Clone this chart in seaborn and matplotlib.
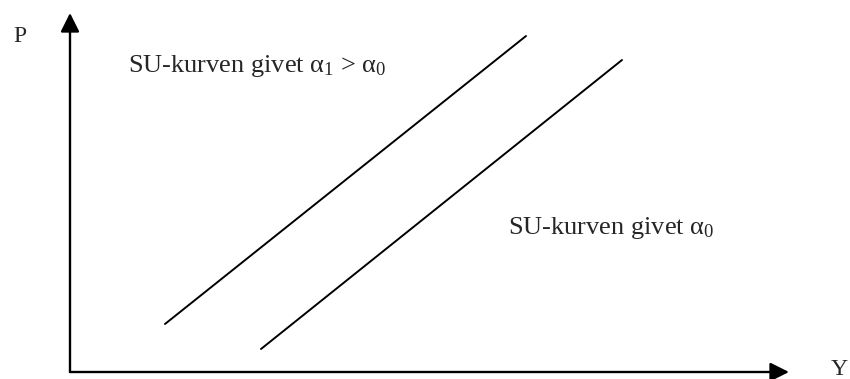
import matplotlib
matplotlib.use("Agg")
import matplotlib.pyplot as plt
import seaborn as sns
import pandas as pd

# Curve endpoints in diagram units (origin at the axis corner)
curve_names = ["SU1", "SU0"]
curve_y = [[95, 456], [191, 552]]   # output Y
curve_p = [[48, 336], [23, 312]]    # price level P

# Axis extent
x_axis_end = 719
y_axis_end = 359

labels = {
    "SU1": "SU-kurven givet α$_1$ > α$_0$",
    "SU0": "SU-kurven givet α$_0$",
}
label_pos = {"SU1": (58, 300), "SU0": (438, 138)}

sns.set_theme(style="white")
plt.rcParams["font.family"] = ["Liberation Serif", "DejaVu Serif"]
plt.rcParams["mathtext.fontset"] = "custom"
plt.rcParams["mathtext.rm"] = "Liberation Serif"
plt.rcParams["mathtext.it"] = "Liberation Serif"

rows = []
for name, ys, ps in zip(curve_names, curve_y, curve_p):
    for yv, pv in zip(ys, ps):
        rows.append({"curve": name, "Y": yv, "P": pv})
df = pd.DataFrame(rows)

fig = plt.figure(figsize=(8.5, 3.79), dpi=100)
ax = fig.add_axes([0, 0, 1, 1])

sns.lineplot(data=df, x="Y", y="P", units="curve", estimator=None,
             color="black", lw=1.4, ax=ax, legend=False)

# Axes drawn as arrows
arrow = dict(arrowstyle="-|>,head_length=0.6,head_width=0.3",
             color="black", lw=1.7, mutation_scale=19, shrinkA=0, shrinkB=0)
ax.annotate("", xy=(x_axis_end, 0), xytext=(0, 0), arrowprops=arrow)
ax.annotate("", xy=(0, y_axis_end), xytext=(0, 0), arrowprops=arrow)

ax.text(-50, 330, "P", fontsize=17, ha="center", va="baseline")
ax.text(769, -3, "Y", fontsize=17, ha="center", va="baseline")

for name in curve_names:
    x, y = label_pos[name]
    ax.text(x, y, labels[name], fontsize=19, ha="left", va="baseline")

ax.set_xlim(-70, 780)
ax.set_ylim(-7, 372)
ax.axis("off")

fig.savefig("out.png", dpi=100)
